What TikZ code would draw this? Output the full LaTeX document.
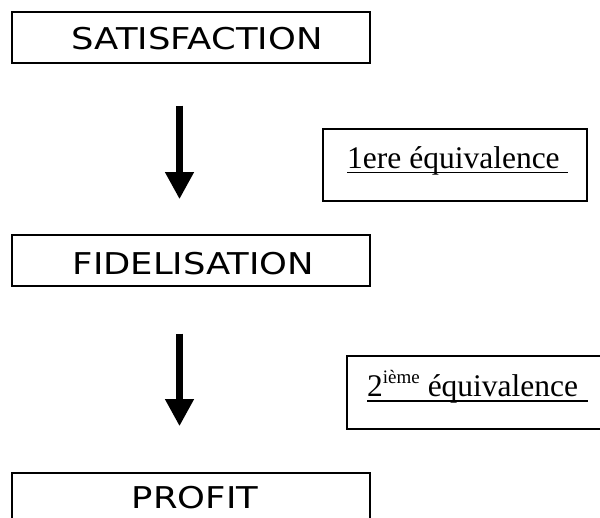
\documentclass[tikz,border=0pt]{standalone}
\usepackage{fontspec}
\usetikzlibrary{arrows.meta}
\newfontfamily\boxfont[FakeStretch=1.18]{DejaVu Sans}
\newfontfamily\eqfont{Liberation Serif}
\begin{document}
\begin{tikzpicture}[x=1pt,y=-1pt,
  stagebox/.style={draw, line width=1.5pt, inner sep=0pt, minimum width=358pt, minimum height=51pt},
  stagetext/.style={font=\boxfont\fontsize{30}{36}\selectfont, inner sep=0pt, text height=21.9pt, text depth=0pt},
  eqbox/.style={draw, line width=1.5pt, inner sep=0pt},
  eqtext/.style={font=\eqfont\fontsize{31.5}{37}\selectfont, inner sep=0pt, anchor=base west},
  uline/.style={line width=1.2pt},
  bigarrow/.style={line width=7pt, -{Triangle[length=27pt,width=27pt]}}]
\useasboundingbox (0,0) rectangle (600,518);
\clip (0,0) rectangle (600,518);
\fill[white] (0,0) rectangle (600,518);
% stage boxes
\node[stagebox] (sat) at (191,37.5) {};
\node[stagebox] (fid) at (191,260.5) {};
\node[stagebox, minimum height=56pt] (prof) at (191,501) {};
\node[stagetext] (satl) at (197,39) {SATISFACTION};
\node[stagetext] (fidl) at (193.5,263.5) {FIDELISATION};
\node[stagetext] (profl) at (195,497.5) {PROFIT};
% equivalence boxes
\node[eqbox, minimum width=264pt, minimum height=72pt] (eq1) at (455,165) {};
\node[eqbox, minimum width=263pt, minimum height=73pt] (eq2) at (478.5,392.5) {};
\node[eqtext] (eq1t) at (347,169) {1ere équivalence};
\node[eqtext] (eq2t) at (367,397) {2\raisebox{13pt}{\fontsize{19}{20}\selectfont ième} équivalence};
\draw[uline] (eq1t.base west) ++(0,3.5) -- ++(221,0);
\draw[uline] (eq2t.base west) ++(0,4) -- ++(221,0);
% arrows
\draw[bigarrow, shorten <=42pt, shorten >=35pt] ([xshift=-11.5pt]sat.south) -- ([xshift=-11.5pt]fid.north);
\draw[bigarrow, shorten <=47pt, shorten >=46pt] ([xshift=-11.5pt]fid.south) -- ([xshift=-11.5pt]prof.north);
\end{tikzpicture}
\end{document}
